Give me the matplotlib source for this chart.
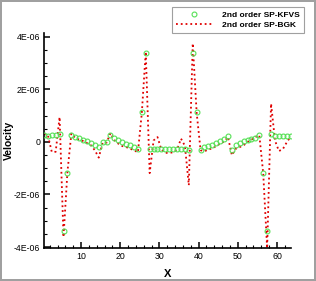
import numpy as np
import matplotlib
matplotlib.use("Agg")
import matplotlib.pyplot as plt
from matplotlib.ticker import MultipleLocator, FuncFormatter

plt.rcParams["font.family"] = ["Liberation Sans", "DejaVu Sans"]

# cell centres 0.5 .. 63.5
x = np.arange(64) + 0.5

# velocity values in units of 1e-6
kfvs = [0.25, 0.24, 0.25, 0.27, 0.30, -3.40, -1.17, 0.27, 0.20, 0.14,
        0.08, 0.02, -0.05, -0.12, -0.20, -0.01, -0.01, 0.27, 0.13, 0.06,
        0.00, -0.07, -0.13, -0.20, -0.27, 1.14, 3.36, -0.29, -0.29, -0.29,
        -0.29, -0.29, -0.29, -0.29, -0.29, -0.29, -0.29, -0.32, 3.38, 1.14,
        -0.30, -0.20, -0.16, -0.11, -0.05, 0.03, 0.12, 0.22, -0.30, -0.13,
        -0.05, 0.02, 0.08, 0.12, 0.16, 0.25, -1.17, -3.40, 0.30, 0.22,
        0.22, 0.22, 0.22, 0.22]
bgk = [0.30, 0.25, -0.38, -0.38, 0.94, -3.62, -1.15, 0.31, 0.15, 0.08,
       0.03, -0.05, -0.13, -0.32, -0.60, -0.03, -0.03, 0.33, 0.06, -0.07,
       -0.16, -0.20, -0.26, -0.32, -0.40, 1.10, 3.42, -1.19, 0.05, 0.18,
       -0.30, -0.42, -0.42, -0.40, -0.30, 0.12, -0.15, -1.65, 3.74, 1.10,
       -0.32, -0.36, -0.29, -0.25, -0.16, -0.07, 0.01, 0.18, -0.51, -0.26,
       -0.20, -0.13, -0.01, 0.08, 0.18, 0.25, -1.20, -4.05, 1.45, 0.05,
       -0.35, -0.28, -0.02, 0.20]

kfvs = np.array(kfvs) * 1e-6
bgk = np.array(bgk) * 1e-6

fig = plt.figure(figsize=(3.16, 2.81), dpi=100, edgecolor="#a0a0a0", linewidth=1.5)
ax = fig.add_axes([0.139, 0.117, 0.782, 0.766])

ax.plot(x, kfvs, linestyle="none", marker="o", markersize=3.5, markerfacecolor="none",
        markeredgecolor="#55e055", markeredgewidth=0.8, label="2nd order SP-KFVS", zorder=3)
ax.plot(x, bgk, linestyle=":", color="#e00000", linewidth=1.3, label="2nd order SP-BGK", zorder=2)

ax.set_xlim(0.5, 63.6)
ax.set_ylim(-4.04e-6, 4.14e-6)

ax.spines["top"].set_visible(False)
ax.spines["right"].set_visible(False)
for s in ["left", "bottom"]:
    ax.spines[s].set_linewidth(1.2)

ax.xaxis.set_major_locator(MultipleLocator(10))
ax.xaxis.set_minor_locator(MultipleLocator(2))
ax.yaxis.set_major_locator(MultipleLocator(2e-6))
ax.yaxis.set_minor_locator(MultipleLocator(0.5e-6))


def fmt(v, pos):
    if abs(v) < 1e-12:
        return "0"
    return f"{v:.0E}"


ax.yaxis.set_major_formatter(FuncFormatter(fmt))
ax.tick_params(which="both", direction="in", top=False, right=False, labelsize=6.3, pad=2.5)
ax.tick_params(which="major", length=4, width=1.1)
ax.tick_params(which="minor", length=2.2, width=0.8)

ax.set_xlabel("X", fontsize=8, fontweight="bold")
ax.set_ylabel("Velocity", fontsize=7.5, fontweight="bold")
ax.xaxis.set_label_coords(0.5, -0.095)
ax.yaxis.set_label_coords(-0.12, 0.5)

leg = ax.legend(loc="upper right", bbox_to_anchor=(304 / 316, 1 - 7 / 281),
                bbox_transform=fig.transFigure, frameon=True,
                fancybox=False, edgecolor="#888888", borderpad=0.45, handlelength=4.3,
                handletextpad=1.3, labelspacing=0.35, borderaxespad=0.0,
                prop={"weight": "bold", "size": 6})
leg.get_frame().set_linewidth(0.8)

fig.savefig("out.png", dpi=100)
